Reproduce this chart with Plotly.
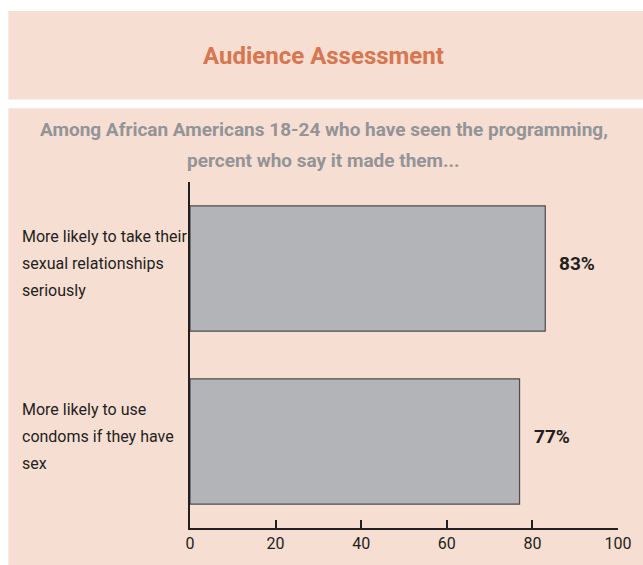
import plotly.graph_objects as go

categories = [
    "More likely to take their<br>sexual relationships<br>seriously",
    "More likely to use<br>condoms if they have<br>sex",
]
values = [83, 77]
value_labels = ["83%", "77%"]
x_ticks = [0, 20, 40, 60, 80, 100]

title_text = "Audience Assessment"
subtitle_lines = [
    "Among African Americans 18-24 who have seen the programming,",
    "percent who say it made them...",
]

FONT = "Roboto, Liberation Sans, sans-serif"
PEACH = "#F6DED3"

W, H = 643, 565
L, R, T, B = 190, 17, 182, 27
pw, ph = W - L - R, H - T - B


def px_x(p):
    return (p - L) / pw


def px_y(p):
    return (H - B - p) / ph


fig = go.Figure()
fig.add_trace(go.Bar(
    y=categories,
    x=values,
    orientation="h",
    width=0.725,
    marker=dict(color="#B3B4B8", line=dict(color="#4D4D4F", width=1.2)),
    hoverinfo="skip",
))

shapes = [
    dict(type="rect", xref="paper", yref="paper", layer="below",
         x0=px_x(5), x1=px_x(690), y0=px_y(97), y1=px_y(6),
         fillcolor=PEACH, line=dict(width=0)),
    dict(type="rect", xref="paper", yref="paper", layer="below",
         x0=px_x(5), x1=px_x(690), y0=px_y(610), y1=px_y(106),
         fillcolor=PEACH, line=dict(width=0)),
]

annotations = [
    dict(text=title_text, xref="paper", yref="paper", x=px_x(326), y=px_y(52),
         xanchor="center", yanchor="middle", showarrow=False,
         font=dict(family=FONT, size=24, color="#D7764F", weight="bold")),
]
for i, line in enumerate(subtitle_lines):
    annotations.append(dict(
        text=line, xref="paper", yref="paper", x=px_x(326), y=px_y(128 + 32 * i),
        xanchor="center", yanchor="middle", showarrow=False,
        font=dict(family=FONT, size=19, color="#929497", weight="bold")))

LINE_GAP = 27
for cat in categories:
    lines = cat.split("<br>")
    n = len(lines)
    for j, line in enumerate(lines):
        annotations.append(dict(
            text=line, xref="paper", yref="y", x=px_x(17), y=cat,
            xanchor="left", yanchor="middle", showarrow=False,
            yshift=5 + ((n - 1) / 2 - j) * LINE_GAP,
            font=dict(family=FONT, size=16, color="#231F20")))

for cat, val, lab in zip(categories, values, value_labels):
    annotations.append(dict(
        text=lab, x=val, y=cat, xref="x", yref="y",
        xanchor="left", yanchor="middle", showarrow=False,
        xshift=12, yshift=5,
        font=dict(family=FONT, size=19, color="#231F20", weight="bold")))

fig.update_layout(
    width=W, height=H,
    margin=dict(l=L, r=R, t=T, b=B, pad=0),
    paper_bgcolor="white",
    plot_bgcolor="rgba(0,0,0,0)",
    showlegend=False,
    shapes=shapes,
    annotations=annotations,
    bargap=0.275,
)
fig.update_xaxes(
    range=[0, 100], tickvals=x_ticks, ticks="inside", ticklen=8, tickwidth=2,
    tickcolor="#231F20", showline=True, linecolor="#231F20", linewidth=2,
    showgrid=False, zeroline=False,
    tickfont=dict(family=FONT, size=16, color="#231F20"),
)
fig.update_yaxes(
    autorange="reversed", showticklabels=False, ticks="",
    showline=True, linecolor="#231F20", linewidth=2, showgrid=False,
    zeroline=False,
)

fig.write_html(
    "out.html",
    config={"displayModeBar": False},
    post_script="document.body.style.margin='0';document.body.style.overflow='hidden';",
)
